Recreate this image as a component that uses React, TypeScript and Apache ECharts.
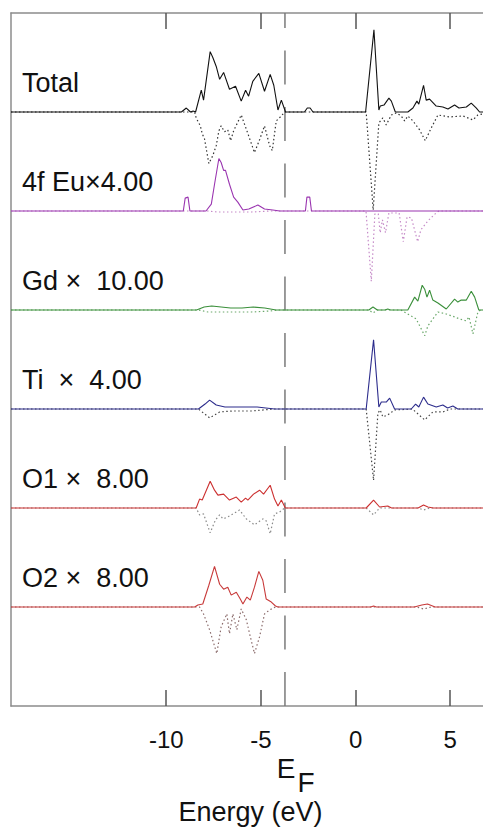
import React, { useEffect, useRef } from "react";
import * as echarts from "echarts";

type Pt = [number, number];

const X_MIN = -18.2;
const X_MAX = 7.1;
const E_FERMI = -3.73;
const xTicks = [-10, -5, 0, 5];

const panelNames = [
  "Total",
  "4f\u00a0Eu×4.00",
  "Gd\u00a0×\u00a0\u00a010.00",
  "Ti\u00a0\u00a0×\u00a0\u00a04.00",
  "O1\u00a0×\u00a0\u00a08.00",
  "O2\u00a0×\u00a0\u00a08.00",
];
const panelOffsets = [60, 50, 40, 30, 20, 10];
const upColors = ["#111111", "#9a35b0", "#3a8f3a", "#2c2c8c", "#cc3030", "#c83a3a"];
const downColors = ["#333333", "#c58ac8", "#6aa86a", "#444444", "#8a8a8a", "#8a6a6a"];

// spin-up / spin-down DOS (scaled), [energy eV, value]
const totalUp: Pt[] = [[-9.2,0],[-8.94,0.4],[-8.72,0],[-8.58,0.1],[-8.45,0],[-8.15,2.2],[-8.03,1.2],[-7.68,6.1],[-7.54,5.5],[-7.36,4.6],[-7.18,3.3],[-6.97,4.0],[-6.66,2.3],[-6.34,2.6],[-6.04,1.1],[-5.81,2.2],[-5.65,1.6],[-5.43,3.1],[-5.11,3.9],[-4.81,2.1],[-4.51,3.8],[-4.32,2.7],[-4.10,0.2],[-3.92,1.2],[-3.70,0],[-2.7,0],[-2.55,0.4],[-2.4,0.4],[-2.25,0],[0.53,0],[0.97,8.3],[1.23,0.2],[1.30,0.6],[1.50,0.7],[1.76,1.4],[1.89,1.1],[2.10,0],[2.76,0],[3.03,0.4],[3.24,1.1],[3.34,0.8],[3.59,2.7],[3.73,1.2],[3.91,1.3],[4.26,0.6],[4.61,0.5],[4.88,0.3],[5.23,0.7],[5.46,0.4],[5.85,0.5],[6.11,0.9],[6.38,0.4],[6.55,0]];
const totalDown: Pt[] = [[-8.5,0],[-8.42,0.6],[-8.2,1.4],[-8.1,2.2],[-7.98,2.7],[-7.75,5.2],[-7.54,4.4],[-7.36,3.4],[-7.22,1.9],[-7.1,1.4],[-6.92,2.0],[-6.75,1.8],[-6.6,2.9],[-6.44,1.9],[-6.04,0.3],[-5.74,1.9],[-5.34,4.1],[-5.07,2.8],[-4.81,1.4],[-4.54,3.4],[-4.4,3.9],[-4.19,0.9],[-3.92,0.4],[-3.75,0],[0.56,0],[0.93,9.9],[1.23,1.1],[1.44,0.6],[1.62,1.3],[1.89,0.3],[2.15,0.1],[2.41,0.4],[2.59,0.9],[2.76,0.4],[3.03,0.9],[3.38,1.8],[3.68,2.9],[4.0,1.6],[4.35,0.3],[4.97,0.5],[5.67,0.4],[6.2,0.8],[6.46,0.3],[6.7,0.2]];
const euUp: Pt[] = [[-9.1,0],[-9.0,1.3],[-8.85,1.4],[-8.75,0],[-7.9,0],[-7.62,0.7],[-7.45,2.7],[-7.22,5.3],[-7.1,4.9],[-6.97,4.1],[-6.87,4.1],[-6.66,2.7],[-6.44,1.4],[-6.22,0.9],[-5.95,0.1],[-5.64,0.2],[-5.16,0.6],[-4.81,0.2],[-4.37,0.1],[-4.01,0],[-2.65,0],[-2.57,1.4],[-2.42,1.4],[-2.33,0]];
const euDown: Pt[] = [[-7.8,0],[-7.3,0.1],[-6.5,0.1],[-5.5,0.1],[-4.5,0],[0.55,0],[0.83,7.1],[1.02,0.3],[1.2,0.3],[1.3,2.2],[1.42,0.9],[1.58,2.2],[1.76,0.2],[2.3,0.2],[2.52,3.1],[2.72,0.6],[2.95,0.7],[3.28,3.1],[3.45,1.9],[3.82,1.0],[4.25,0.2],[4.4,0]];
const gdUp: Pt[] = [[-8.4,0],[-8.0,0.3],[-7.6,0.4],[-7.1,0.3],[-6.6,0.2],[-6.0,0.2],[-5.4,0.3],[-4.8,0.2],[-4.2,0],[0.7,0],[0.92,0.3],[1.15,0],[1.55,0],[1.7,0.1],[1.85,0],[2.76,0],[3.12,1.3],[3.29,0.9],[3.52,2.5],[3.65,2.1],[3.77,1.3],[3.91,2.0],[4.08,1.0],[4.35,0.7],[4.79,0.1],[5.23,1.1],[5.4,0.8],[5.58,1.0],[5.85,1.0],[6.11,1.9],[6.29,1.3],[6.51,0]];
const gdDown: Pt[] = [[-8.3,0],[-7.8,0.2],[-7.2,0.2],[-6.5,0.2],[-5.5,0.2],[-4.5,0.1],[-4.1,0],[0.7,0],[0.92,0.3],[1.15,0],[2.4,0],[3.2,0.9],[3.65,2.6],[3.82,1.6],[4.08,0.9],[4.35,0.2],[4.79,0.4],[5.23,0.7],[5.49,0.9],[5.85,1.1],[5.99,0.7],[6.2,2.4],[6.46,0.2],[6.6,0]];
const tiUp: Pt[] = [[-8.3,0],[-7.95,0.5],[-7.71,0.9],[-7.36,0.4],[-6.9,0.2],[-6.0,0.2],[-5.2,0.2],[-4.28,0],[0.56,0],[0.95,7.0],[1.23,0.2],[1.36,0.7],[1.62,0.7],[1.8,1.1],[2.06,0],[2.94,0],[3.17,0.5],[3.34,0.2],[3.59,1.2],[3.82,0.5],[4.26,0.2],[4.61,0.4],[4.86,0.1],[5.14,0.3],[5.4,0]];
const tiDown: Pt[] = [[-8.3,0],[-7.71,0.9],[-7.18,0.3],[-6.5,0.2],[-5.5,0.2],[-4.3,0],[0.56,0],[0.95,7.2],[1.18,0.4],[1.3,0.1],[1.44,0.8],[1.7,0.6],[2.06,0.1],[3.0,0],[3.65,1.1],[4.08,0.3],[4.61,0.3],[5.0,0]];
const o1Up: Pt[] = [[-8.42,0],[-8.24,0.9],[-8.1,0.8],[-7.68,2.7],[-7.45,1.8],[-7.27,1.3],[-6.97,1.4],[-6.66,0.8],[-6.3,1.1],[-6.04,0.6],[-5.81,1.0],[-5.69,0.8],[-5.39,1.4],[-5.07,1.8],[-4.86,1.4],[-4.51,2.3],[-4.28,0.9],[-4.1,0.2],[-3.92,0.8],[-3.71,0],[0.56,0],[0.95,0.8],[1.27,0.1],[1.7,0.2],[1.9,0],[3.3,0],[3.59,0.3],[3.82,0.1],[4.1,0]];
const o1Down: Pt[] = [[-8.42,0],[-8.24,0.7],[-8.03,0.6],[-7.68,2.5],[-7.4,1.2],[-7.18,0.7],[-7.0,1.1],[-6.75,0.9],[-6.48,0.6],[-6.13,0.2],[-5.77,1.1],[-5.34,1.7],[-4.9,1.1],[-4.72,1.3],[-4.51,2.6],[-4.28,0.6],[-4.01,0.4],[-3.75,0],[0.56,0],[0.95,0.7],[1.27,0],[3.3,0],[3.6,0.2],[3.9,0]];
const o2Up: Pt[] = [[-8.5,0],[-8.33,0.2],[-8.07,0.3],[-7.75,2.2],[-7.45,4.1],[-7.18,2.3],[-6.97,1.8],[-6.75,2.0],[-6.57,1.2],[-6.3,1.5],[-6.09,0.8],[-5.95,0.3],[-5.74,1.0],[-5.56,0.7],[-5.34,2.0],[-5.11,3.6],[-4.9,2.7],[-4.72,0.8],[-4.45,0.5],[-4.23,0.1],[-4.1,0],[0.8,0],[0.95,0.1],[1.1,0],[3.1,0],[3.5,0.2],[3.8,0.3],[4.2,0]];
const o2Down: Pt[] = [[-8.24,0],[-8.03,0.7],[-7.71,2.3],[-7.33,4.7],[-7.1,2.0],[-6.8,0.7],[-6.66,2.7],[-6.48,0.7],[-6.27,2.3],[-6.04,0.2],[-5.77,1.3],[-5.56,3.0],[-5.34,4.7],[-5.07,3.0],[-4.81,0.7],[-4.54,0.3],[-4.23,0],[3.2,0],[3.6,0.2],[4.0,0]];

const upCurves = [totalUp, euUp, gdUp, tiUp, o1Up, o2Up];
const downCurves = [totalDown, euDown, gdDown, tiDown, o1Down, o2Down];

const FONT = '"Liberation Sans", Arial, Helvetica, sans-serif';

function shifted(points: Pt[], offset: number, sign: number): Pt[] {
  return [
    [X_MIN, offset],
    ...points.map(([e, v]) => [e, offset + sign * v] as Pt),
    [X_MAX, offset],
  ];
}

export default function App() {
  const ref = useRef<HTMLDivElement>(null);
  useEffect(() => {
    if (!ref.current) return;
    const chart = echarts.init(ref.current, undefined, { renderer: "svg" });
    const series: any[] = [];
    series.push({
      type: "line",
      data: [[E_FERMI, 0], [E_FERMI, 70]],
      symbol: "none",
      silent: true,
      z: 1,
      lineStyle: { color: "#7a7a7a", width: 1.5, type: [34, 22.5] },
    });
    panelOffsets.forEach((off, i) => {
      series.push({
        type: "line",
        data: shifted(downCurves[i], off, -1),
        symbol: "none",
        z: 2,
        lineStyle: { color: downColors[i], width: 1.2, type: [1.5, 2.5] },
      });
    });
    panelOffsets.forEach((off, i) => {
      series.push({
        type: "line",
        data: shifted(upCurves[i], off, 1),
        symbol: "none",
        z: 3,
        lineStyle: { color: upColors[i], width: 1.1 },
      });
    });
    const axisCommon = {
      type: "value",
      min: X_MIN,
      max: X_MAX,
      splitLine: { show: false },
      axisLine: { show: true, onZero: false, lineStyle: { color: "#8c8c8c", width: 1.5 } },
      axisTick: { show: true, inside: true, length: 16, customValues: xTicks, lineStyle: { color: "#555", width: 1.5 } },
    };
    chart.setOption({
      animation: false,
      grid: { left: 11, right: 0, top: 13, bottom: 126 },
      xAxis: [
        {
          ...axisCommon,
          position: "bottom",
          axisLabel: { show: true, customValues: xTicks, margin: 21, fontSize: 24, fontFamily: FONT, color: "#111" },
        },
        { ...axisCommon, position: "top", axisLabel: { show: false } },
      ],
      yAxis: {
        type: "value",
        min: 0,
        max: 70,
        splitLine: { show: false },
        axisTick: { show: false },
        axisLabel: { show: false },
        axisLine: { show: true, onZero: false, lineStyle: { color: "#8c8c8c", width: 1.5 } },
      },
      series,
    });
    const graphics: any[] = panelNames.map((name, i) => {
      const py = chart.convertToPixel({ yAxisIndex: 0 }, panelOffsets[i]) as number;
      return {
        type: "text",
        x: 22,
        y: py - 29.4,
        style: { text: name, fontSize: 27, fontFamily: FONT, fill: "#111", align: "left", verticalAlign: "middle" },
      };
    });
    const fx = chart.convertToPixel({ xAxisIndex: 0 }, E_FERMI) as number;
    const bottomPx = chart.convertToPixel({ yAxisIndex: 0 }, 0) as number;
    graphics.push({
      type: "text",
      x: fx - 8.3,
      y: bottomPx + 62,
      style: { text: "E", fontSize: 28, fontFamily: FONT, fill: "#111", align: "left", verticalAlign: "middle" },
    });
    graphics.push({
      type: "text",
      x: fx + 12.5,
      y: bottomPx + 76,
      style: { text: "F", fontSize: 28, fontFamily: FONT, fill: "#111", align: "left", verticalAlign: "middle" },
    });
    graphics.push({
      type: "text",
      x: 250.5,
      y: bottomPx + 105.6,
      style: { text: "Energy (eV)", fontSize: 27, fontFamily: FONT, fill: "#111", align: "center", verticalAlign: "middle" },
    });
    chart.setOption({ graphic: graphics });
    return () => chart.dispose();
  }, []);
  return (
    <div style={{ position: "fixed", left: 0, top: 0, width: 483, height: 832, overflow: "hidden", background: "#fff" }}>
      <div ref={ref} style={{ width: 490, height: 832 }} />
    </div>
  );
}
